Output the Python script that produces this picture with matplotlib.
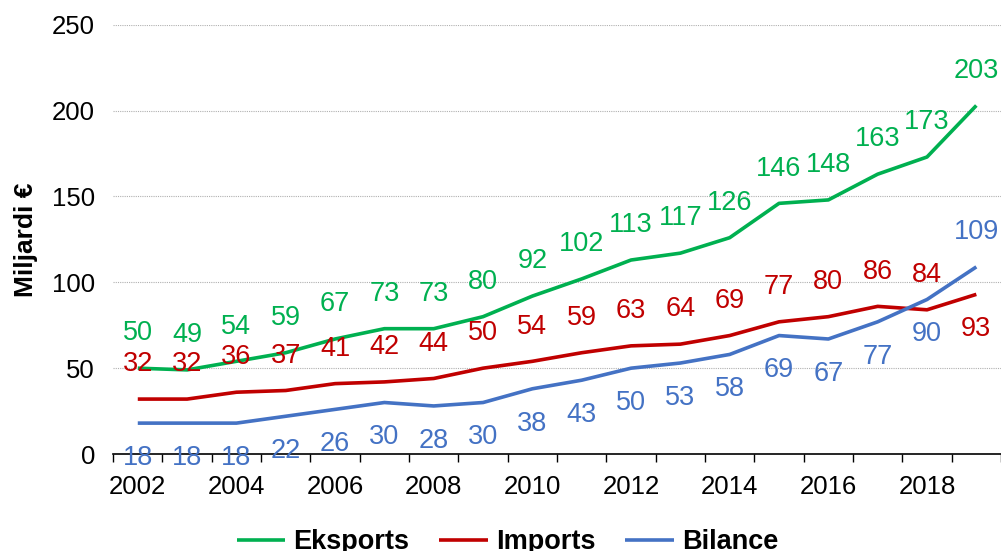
import numpy as np
import matplotlib.pyplot as plt
from matplotlib.ticker import FixedLocator

plt.rcParams['font.family'] = ['Liberation Sans', 'DejaVu Sans']

years = list(range(2002, 2020))
eksports = [50, 49, 54, 59, 67, 73, 73, 80, 92, 102, 113, 117, 126, 146, 148, 163, 173, 203]
imports = [32, 32, 36, 37, 41, 42, 44, 50, 54, 59, 63, 64, 69, 77, 80, 86, 84, 93]
bilance = [18, 18, 18, 22, 26, 30, 28, 30, 38, 43, 50, 53, 58, 69, 67, 77, 90, 109]

# label side: +1 above the line, -1 below
eks_side = [1] * 18
imp_side = [1] * 17 + [-1]
bil_side = [-1] * 17 + [1]

series = [
    ("Eksports", eksports, "#00B050", eks_side),
    ("Imports", imports, "#C00000", imp_side),
    ("Bilance", bilance, "#4472C4", bil_side),
]

fig = plt.figure(figsize=(10.01, 5.51), dpi=100)
ax = fig.add_axes([0.113, 0.176, 0.887, 0.779])

x = np.arange(len(years))
for name, vals, col, side in series:
    ax.plot(x, vals, color=col, lw=2.6, label=name, solid_capstyle='butt')
    for xi, v, s in zip(x, vals, side):
        ax.annotate(str(v), (xi, v), xytext=(0, 25 * s), textcoords='offset points',
                    ha='center', va='center', color=col, fontsize=19.5)

ax.set_xlim(-0.5, len(years) - 0.5)
ax.set_ylim(0, 250)
ax.set_yticks([0, 50, 100, 150, 200, 250])
ax.yaxis.grid(True, color='#b0b0b0', linestyle=(0, (1, 1)), lw=0.8)
ax.set_axisbelow(True)

ax.set_xticks(x[::2])
ax.set_xticklabels([str(y) for y in years[::2]])
ax.xaxis.set_minor_locator(FixedLocator(np.arange(-0.5, len(years), 1)))
ax.tick_params(axis='x', which='major', length=0, pad=15, labelsize=18.5)
ax.tick_params(axis='x', which='minor', length=6, width=1, direction='out', color='black')
ax.tick_params(axis='y', length=0, pad=13, labelsize=18.5)

for sp in ['left', 'right', 'top']:
    ax.spines[sp].set_visible(False)
ax.spines['bottom'].set_color('black')
ax.spines['bottom'].set_linewidth(1.2)

ax.set_ylabel("Miljardi €", fontsize=19, fontweight='bold', labelpad=10)

fig.legend(loc='center', bbox_to_anchor=(0.507, 0.016), ncol=3, frameon=False,
           prop={'size': 19.5, 'weight': 'bold'}, handlelength=1.8,
           handletextpad=0.3, columnspacing=1.1)

fig.savefig('out.png', dpi=100)
